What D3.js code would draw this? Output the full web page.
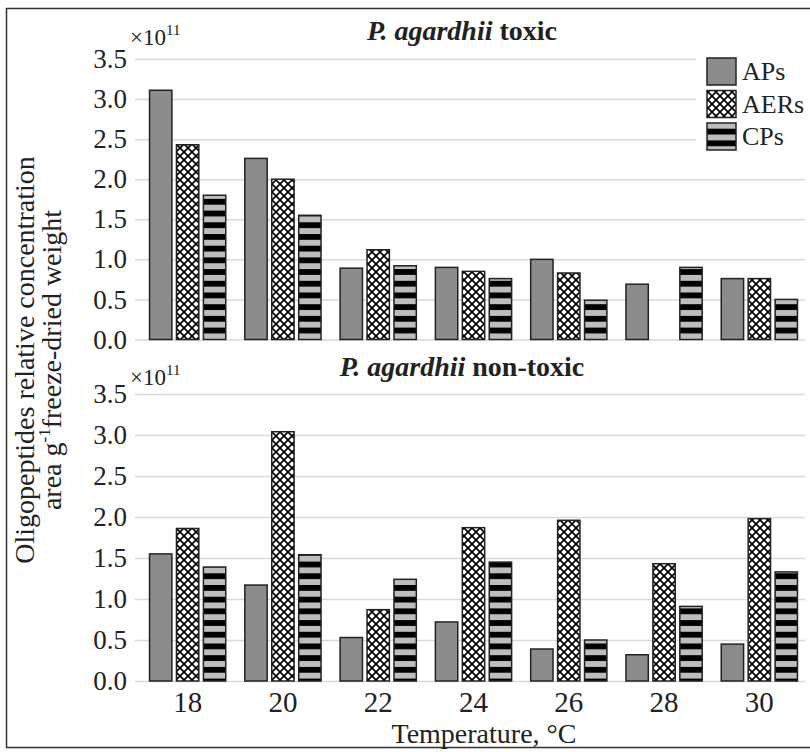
<!DOCTYPE html>
<html lang="en">
<head>
<meta charset="UTF-8">
<title>Oligopeptides - P. agardhii</title>
<script src="https://cdn.jsdelivr.net/npm/d3@7"></script>
<style>
  body { margin: 0; background: #fff; }
  text { font-family: "Liberation Serif", "Times New Roman", serif; fill: #222; }
</style>
</head>
<body>
<script>
  // data (units of 1e11)
  var temps = ['18', '20', '22', '24', '26', '28', '30'];
  var series = ['APs', 'AERs', 'CPs'];
  var toxicAPs = [3.11, 2.26, 0.89, 0.90, 1.00, 0.69, 0.76];
  var toxicAERs = [2.43, 2.00, 1.12, 0.85, 0.83, 0, 0.76];
  var toxicCPs = [1.80, 1.55, 0.92, 0.76, 0.49, 0.90, 0.50];
  var nontoxicAPs = [1.55, 1.17, 0.53, 0.72, 0.39, 0.32, 0.45];
  var nontoxicAERs = [1.86, 3.04, 0.87, 1.87, 1.96, 1.43, 1.98];
  var nontoxicCPs = [1.39, 1.54, 1.24, 1.45, 0.50, 0.91, 1.33];
  var yTicks = [0, 0.5, 1.0, 1.5, 2.0, 2.5, 3.0, 3.5];

  var W = 810, H = 752;
  var svg = d3.select('body').append('svg').attr('width', W).attr('height', H);

  var defs = svg.append('defs');
  var ph = defs.append('pattern').attr('id', 'hatch')
    .attr('patternUnits', 'userSpaceOnUse').attr('width', 8).attr('height', 8);
  ph.append('rect').attr('width', 8).attr('height', 8).attr('fill', '#fff');
  ph.append('path').attr('d', 'M0,0L8,8M8,0L0,8')
    .attr('stroke', '#000').attr('stroke-width', 1.7);
  var ps = defs.append('pattern').attr('id', 'stripes')
    .attr('patternUnits', 'userSpaceOnUse').attr('width', 10).attr('height', 11.7);
  ps.append('rect').attr('width', 10).attr('height', 11.7).attr('fill', '#bdbdbd');
  ps.append('rect').attr('width', 10).attr('height', 5.8).attr('fill', '#000');

  var fills = { APs: '#8c8c8c', AERs: 'url(#hatch)', CPs: 'url(#stripes)' };

  // outer frame
  svg.append('rect').attr('x', 6.5).attr('y', 8.5).attr('width', 830).attr('height', 739)
    .attr('fill', 'none').attr('stroke', '#333').attr('stroke-width', 1.5);

  var x = d3.scaleBand().domain(temps).range([140, 807]).paddingInner(0.2).paddingOuter(0.1);
  var xs = d3.scaleBand().domain(series).range([0, x.bandwidth()]).paddingInner(0.17);

  var panels = [
    { title: ' toxic', y0: 339.5, y1: 59, vals: [toxicAPs, toxicAERs, toxicCPs], ty: 40, my: 45 },
    { title: ' non-toxic', y0: 681, y1: 394, vals: [nontoxicAPs, nontoxicAERs, nontoxicCPs], ty: 376, my: 385 }
  ];

  panels.forEach(function(p) {
    var y = d3.scaleLinear().domain([0, 3.5]).range([p.y0, p.y1]);

    var ax = svg.append('g').attr('transform', 'translate(135,0)')
      .call(d3.axisLeft(y).tickValues(yTicks).tickFormat(d3.format('.1f'))
        .tickSizeInner(-670).tickSizeOuter(0).tickPadding(8));
    ax.select('.domain').remove();
    ax.selectAll('line').attr('stroke', '#d9d9d9').attr('stroke-width', 1.5);
    ax.selectAll('text').attr('font-size', 27).attr('fill', '#222')
      .attr('font-family', '"Liberation Serif", serif');

    var rows = [];
    temps.forEach(function(t, i) {
      series.forEach(function(s, j) {
        if (p.vals[j][i] > 0) rows.push({ t: t, s: s, v: p.vals[j][i] });
      });
    });

    svg.append('g').selectAll('rect').data(rows).enter().append('rect')
      .attr('x', function(d) { return x(d.t) + xs(d.s); })
      .attr('width', xs.bandwidth())
      .attr('y', function(d) { return y(d.v); })
      .attr('height', function(d) { return y(0) - y(d.v); })
      .attr('fill', function(d) { return fills[d.s]; })
      .attr('stroke', '#222').attr('stroke-width', 1.5);

    var tt = svg.append('text').attr('x', 462).attr('y', p.ty)
      .attr('text-anchor', 'middle').attr('font-size', 28).attr('font-weight', 'bold');
    tt.append('tspan').attr('font-style', 'italic').text('P. agardhii');
    tt.append('tspan').text(p.title);

    var m = svg.append('text').attr('x', 130).attr('y', p.my).attr('font-size', 23);
    m.append('tspan').text('×10');
    m.append('tspan').attr('font-size', 15).attr('dy', -10).text('11');
  });

  // x axis (bottom panel only)
  var xa = svg.append('g').attr('transform', 'translate(0,681)')
    .call(d3.axisBottom(x).tickSize(0).tickPadding(10));
  xa.select('.domain').remove();
  xa.selectAll('text').attr('font-size', 29).attr('fill', '#222')
    .attr('font-family', '"Liberation Serif", serif');

  svg.append('text').attr('x', 484).attr('y', 743).attr('text-anchor', 'middle')
    .attr('font-size', 28).text('Temperature, °C');

  var yt = svg.append('g').attr('transform', 'translate(0,360) rotate(-90)');
  yt.append('text').attr('x', 0).attr('y', 34).attr('text-anchor', 'middle')
    .attr('font-size', 28).text('Oligopeptides relative concentration');
  var l2 = yt.append('text').attr('x', 0).attr('y', 61).attr('text-anchor', 'middle')
    .attr('font-size', 28);
  l2.append('tspan').text('area g');
  l2.append('tspan').attr('font-size', 17).attr('dy', -11).text('-1');
  l2.append('tspan').attr('dy', 11).text('freeze-dried weight');

  // legend
  var lg = svg.append('g');
  lg.append('rect').attr('x', 696).attr('y', 50).attr('width', 114).attr('height', 106).attr('fill', '#fff');
  series.forEach(function(s, i) {
    lg.append('rect').attr('x', 707).attr('y', 58 + i * 32.5).attr('width', 29).attr('height', 27)
      .attr('fill', fills[s]).attr('stroke', '#222').attr('stroke-width', 1.5);
    lg.append('text').attr('x', 742).attr('y', 80 + i * 32.5).attr('font-size', 26).text(s);
  });
</script>
</body>
</html>
